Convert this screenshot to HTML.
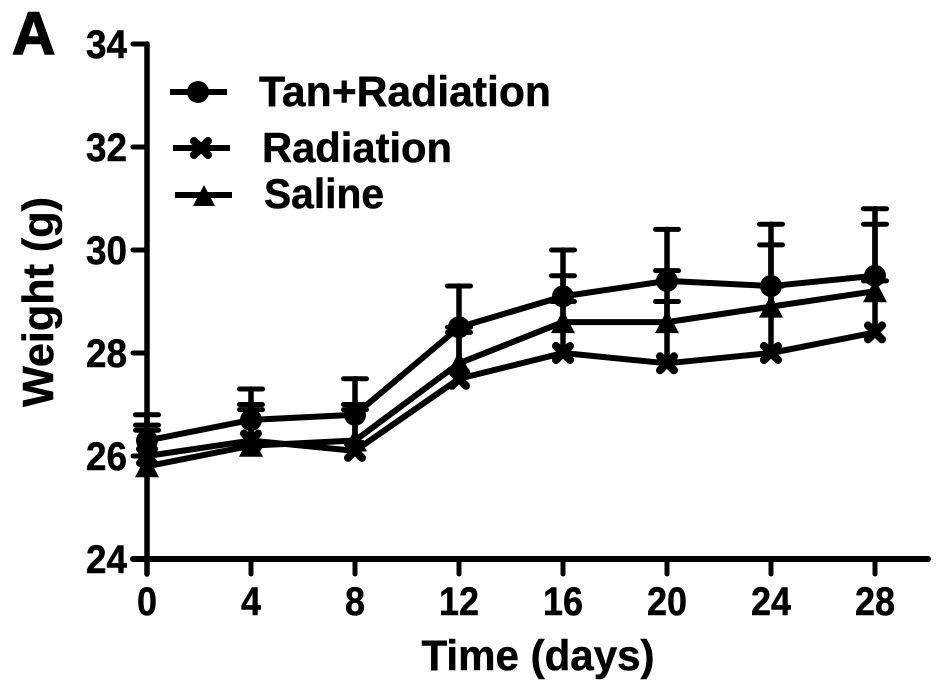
<!DOCTYPE html>
<html>
<head>
<meta charset="utf-8">
<style>
html,body{margin:0;padding:0;background:#fff;}
svg{display:block;}
text{font-family:"Liberation Sans",sans-serif;font-weight:bold;fill:#000;stroke:#000;stroke-width:0.5px;}
</style>
</head>
<body>
<svg id="chart" width="945" height="694" viewBox="0 0 945 694" xmlns="http://www.w3.org/2000/svg">
  <rect width="945" height="694" fill="#fff"/>
  <text x="12" y="54" font-size="60" style="stroke-width:1.5px">A</text>
  <text transform="translate(53,302) rotate(-90)" text-anchor="middle" font-size="44" textLength="210" lengthAdjust="spacingAndGlyphs">Weight (g)</text>
  <text x="538" y="670" text-anchor="middle" font-size="43" textLength="233" lengthAdjust="spacingAndGlyphs">Time (days)</text>
  <g id="axes"></g>
  <g id="plot"></g>
  <g>
    <g>
      <line x1="170" y1="92" x2="227" y2="92" stroke="#000" stroke-width="6"/>
      <circle cx="198" cy="92" r="11" fill="#000"/>
      <text x="259" y="106" font-size="43" textLength="292" lengthAdjust="spacingAndGlyphs">Tan+Radiation</text>
    </g>
    <g>
      <line x1="173" y1="148" x2="230" y2="148" stroke="#000" stroke-width="6"/>
      <path d="M194 141L208 155M208 141L194 155" stroke="#000" stroke-width="8" stroke-linecap="round"/>
      <text x="262" y="162" font-size="42" textLength="190" lengthAdjust="spacingAndGlyphs">Radiation</text>
    </g>
    <g>
      <line x1="175" y1="195" x2="232" y2="195" stroke="#000" stroke-width="6"/>
      <path d="M204 185L215 206H193Z" fill="#000"/>
      <text x="264" y="208" font-size="42" textLength="120" lengthAdjust="spacingAndGlyphs">Saline</text>
    </g>
  </g>
</svg>
<script>
const days = [0, 4, 8, 12, 16, 20, 24, 28];
const xTickLabels = ["0", "4", "8", "12", "16", "20", "24", "28"];
const yTickValues = [24, 26, 28, 30, 32, 34];
const tanRadiation = [26.3, 26.7, 26.8, 28.5, 29.1, 29.4, 29.3, 29.5];
const tanRadiationUpper = [26.8, 27.3, 27.5, 29.3, 30.0, 30.4, 30.5, 30.8];
const radiation = [26.0, 26.3, 26.1, 27.5, 28.0, 27.8, 28.0, 28.4];
const radiationUpper = [26.5, 26.9, 26.9, 28.4, 29.0, 29.0, 29.3, 29.4];
const saline = [25.8, 26.2, 26.3, 27.8, 28.6, 28.6, 28.9, 29.2];
const salineUpper = [26.6, 27.0, 27.0, 28.5, 29.5, 29.6, 30.1, 30.5];

const NS = 'http://www.w3.org/2000/svg';
const xScale = d => 147 + (d / 28) * 728;
const yScale = v => 559 - ((v - 24) / 10) * 515;
const axes = document.getElementById('axes');
const plot = document.getElementById('plot');

function make(tag, attrs, parent) {
  const el = document.createElementNS(NS, tag);
  for (const k in attrs) el.setAttribute(k, attrs[k]);
  parent.appendChild(el);
  return el;
}
function seg(x1, y1, x2, y2, w, parent) {
  return make('line', {x1, y1, x2, y2, stroke: '#000', 'stroke-width': w, 'stroke-linecap': 'round'}, parent);
}

const yAxis = seg(147, yScale(34), 147, 574, 5.5, axes);


const xAxis = seg(133, yScale(24), 928, yScale(24), 6, axes);



yTickValues.forEach(v => {
  const t = seg(133, yScale(v), 147, yScale(v), 5, axes);
  
  
  const l = make('text', {x: 127, y: yScale(v) + 14, 'text-anchor': 'end', 'font-size': 40, textLength: 41, lengthAdjust: 'spacingAndGlyphs'}, axes);
  l.textContent = String(v);
  
  
});

days.forEach((d, i) => {
  const t = seg(xScale(d), yScale(24), xScale(d), 574, 5, axes);
  
  
  const txt = xTickLabels[i];
  const l = make('text', {x: xScale(d), y: 615, 'text-anchor': 'middle', 'font-size': 40, textLength: txt.length * 20, lengthAdjust: 'spacingAndGlyphs'}, axes);
  l.textContent = txt;
  
  
});

function drawSeries(values, upper, marker, name) {
  const g = make('g', {}, plot);
  
  
  days.forEach((d, i) => {
    const x = xScale(d);
    const e = seg(x, yScale(values[i]), x, yScale(upper[i]), 5.5, g);
    
    
    const c = seg(x - 11.5, yScale(upper[i]), x + 11.5, yScale(upper[i]), 5, g);
    
    
  });
  const pts = values.map((v, i) => xScale(days[i]) + ',' + yScale(v)).join(' ');
  const line = make('polyline', {points: pts, fill: 'none', stroke: '#000', 'stroke-width': 6, 'stroke-linejoin': 'round'}, g);
  
  
  values.forEach((v, i) => {
    const m = marker(xScale(days[i]), yScale(v), g);
    
    
  });
}
const circleMarker = (x, y, g) => make('circle', {cx: x, cy: y, r: 11, fill: '#000'}, g);
const crossMarker = (x, y, g) => make('path', {d: `M${x-7} ${y-7}L${x+7} ${y+7}M${x+7} ${y-7}L${x-7} ${y+7}`, stroke: '#000', 'stroke-width': 8, 'stroke-linecap': 'round', fill: 'none'}, g);
const triangleMarker = (x, y, g) => make('path', {d: `M${x} ${y-12}L${x+12} ${y+11}H${x-12}Z`, fill: '#000'}, g);

drawSeries(radiation, radiationUpper, crossMarker, 'series-radiation');
drawSeries(saline, salineUpper, triangleMarker, 'series-saline');
drawSeries(tanRadiation, tanRadiationUpper, circleMarker, 'series-tan-radiation');
</script>
</body>
</html>
